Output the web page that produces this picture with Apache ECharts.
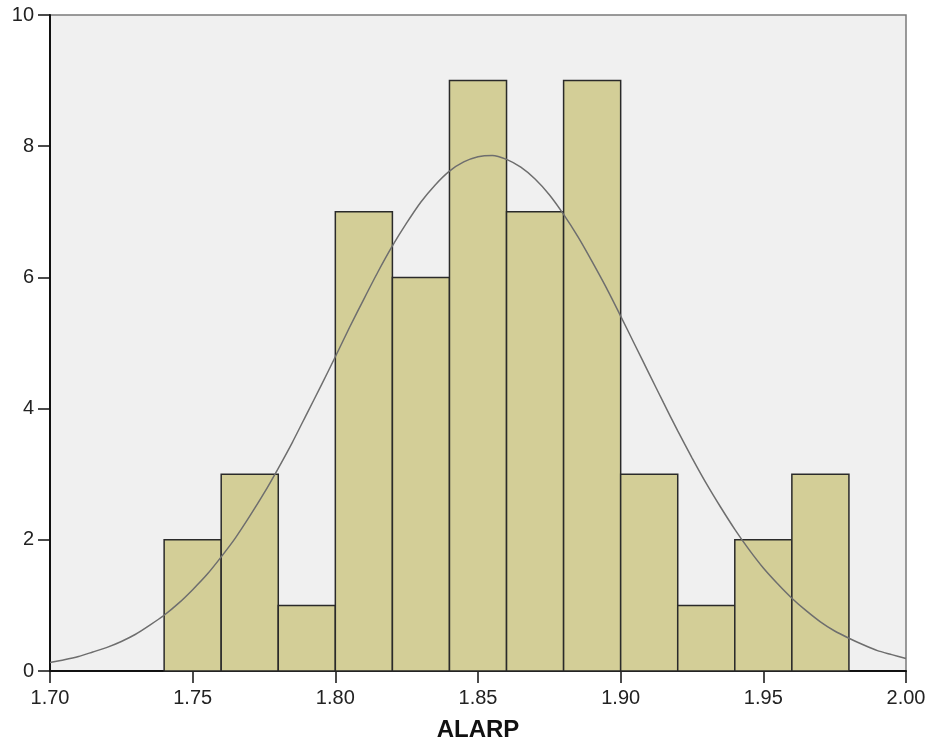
<!DOCTYPE html>
<html>
<head>
<meta charset="utf-8">
<title>ALARP</title>
<script src="https://cdn.jsdelivr.net/npm/echarts@6/dist/echarts.min.js"></script>
<style>
  html, body { margin: 0; padding: 0; background: #ffffff; }
  #chart { width: 933px; height: 754px; }
</style>
</head>
<body>
<div id="chart"></div>
<script>
// Histogram bins (lower edge, upper edge) and their counts
const binStarts = [1.74, 1.76, 1.78, 1.80, 1.82, 1.84, 1.86, 1.88, 1.90, 1.92, 1.94, 1.96];
const binEnds   = [1.76, 1.78, 1.80, 1.82, 1.84, 1.86, 1.88, 1.90, 1.92, 1.94, 1.96, 1.98];
const counts    = [2, 3, 1, 7, 6, 9, 7, 9, 3, 1, 2, 3];

// Fitted normal curve, sampled every 0.005 along the x axis
const curveX = [1.700, 1.705, 1.710, 1.715, 1.720, 1.725, 1.730, 1.735, 1.740, 1.745,
                1.750, 1.755, 1.760, 1.765, 1.770, 1.775, 1.780, 1.785, 1.790, 1.795,
                1.800, 1.805, 1.810, 1.815, 1.820, 1.825, 1.830, 1.835, 1.840, 1.845,
                1.850, 1.855, 1.860, 1.865, 1.870, 1.875, 1.880, 1.885, 1.890, 1.895,
                1.900, 1.905, 1.910, 1.915, 1.920, 1.925, 1.930, 1.935, 1.940, 1.945,
                1.950, 1.955, 1.960, 1.965, 1.970, 1.975, 1.980, 1.985, 1.990, 1.995,
                2.000];
const curveY = [0.13, 0.17, 0.22, 0.29, 0.36, 0.45, 0.56, 0.70, 0.85, 1.03,
                1.24, 1.47, 1.74, 2.03, 2.36, 2.71, 3.09, 3.49, 3.92, 4.35,
                4.79, 5.24, 5.67, 6.09, 6.48, 6.83, 7.15, 7.41, 7.62, 7.76,
                7.84, 7.86, 7.80, 7.68, 7.50, 7.26, 6.96, 6.62, 6.24, 5.84,
                5.41, 4.97, 4.53, 4.09, 3.66, 3.25, 2.86, 2.50, 2.16, 1.85,
                1.57, 1.33, 1.11, 0.92, 0.75, 0.61, 0.50, 0.40, 0.31, 0.25,
                0.19];

// Axis ticks
const xTicks = ['1.70', '1.75', '1.80', '1.85', '1.90', '1.95', '2.00'];
const yTicks = [0, 2, 4, 6, 8, 10];

const histData = binStarts.map((s, i) => [s, binEnds[i], counts[i]]);
const curveData = curveX.map((x, i) => [x, curveY[i]]);

const chart = echarts.init(document.getElementById('chart'), null, { renderer: 'canvas' });

const labelFont = { fontFamily: 'Liberation Sans, Arial, sans-serif', fontSize: 20, color: '#222' };

chart.setOption({
  animation: false,
  backgroundColor: '#ffffff',
  grid: {
    left: 50, right: 27, top: 15, bottom: 83,
    show: true,
    backgroundColor: '#f0f0f0',
    borderColor: '#7a7a7a',
    borderWidth: 1.5
  },
  xAxis: {
    type: 'value',
    min: Number(xTicks[0]),
    max: Number(xTicks[xTicks.length - 1]),
    interval: 0.05,
    name: 'ALARP',
    nameLocation: 'middle',
    nameGap: 47,
    nameTextStyle: { fontFamily: 'Liberation Sans, Arial, sans-serif', fontSize: 24, fontWeight: 'bold', color: '#111' },
    axisLine: { show: true, onZero: false, lineStyle: { color: '#111', width: 2 } },
    axisTick: { show: true, length: 12, lineStyle: { color: '#111', width: 1.5 } },
    axisLabel: Object.assign({ margin: 17, formatter: v => v.toFixed(2) }, labelFont),
    splitLine: { show: false }
  },
  yAxis: {
    type: 'value',
    min: yTicks[0],
    max: yTicks[yTicks.length - 1],
    interval: 2,
    axisLine: { show: true, lineStyle: { color: '#111', width: 2 } },
    axisTick: { show: true, length: 12, lineStyle: { color: '#111', width: 1.5 } },
    axisLabel: Object.assign({ margin: 16 }, labelFont),
    splitLine: { show: false }
  },
  series: [
    {
      type: 'custom',
      data: histData,
      encode: { x: [0, 1], y: 2 },
      z: 2,
      renderItem: function (params, api) {
        const p0 = api.coord([api.value(0), api.value(2)]);
        const p1 = api.coord([api.value(1), 0]);
        return {
          type: 'rect',
          shape: { x: p0[0], y: p0[1], width: p1[0] - p0[0], height: p1[1] - p0[1] },
          style: { fill: '#d3ce97', stroke: '#2a2a2a', lineWidth: 1.5 }
        };
      }
    },
    {
      type: 'line',
      data: curveData,
      smooth: 0.2,
      showSymbol: false,
      z: 3,
      lineStyle: { color: '#6e6e6e', width: 1.5 }
    }
  ]
});
</script>
</body>
</html>
